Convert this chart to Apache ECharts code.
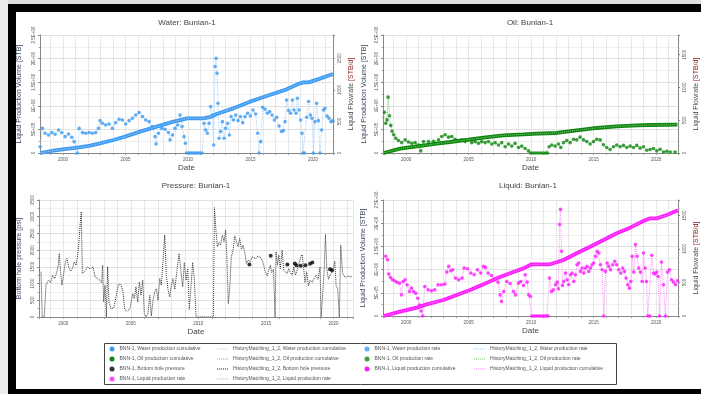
<!DOCTYPE html>
<html>
<head>
<meta charset="utf-8">
<script src="https://cdn.jsdelivr.net/npm/echarts@6/dist/echarts.min.js"></script>
<style>
  html, body { margin: 0; padding: 0; background: #fff; }
  #main { width: 701px; height: 394px; }
</style>
</head>
<body>
<div id="main"></div>
<script>
// ---- data (decimal year, value) ----
const waterCum = [[1998.16,0],[1999.23,49000],[2000.29,85000],[2001.15,113000],[2002.16,155000],[2002.96,205000],[2004.03,275000],[2004.96,346000],[2006.16,452000],[2007.49,558000],[2008.83,664000],[2009.63,713000],[2009.89,734000],[2011.23,734000],[2011.89,770000],[2012.29,826000],[2013.63,946000],[2014.96,1088000],[2016.29,1208000],[2017.89,1349000],[2018.96,1476000],[2019.23,1497000],[2019.63,1497000],[2020.56,1575000],[2021.6,1674000]];

const waterRate = [[1998.16,100],[1998.35,391],[1998.56,312],[1998.83,286],[1999.09,323],[1999.36,296],[1999.63,365],[1999.89,323],[2000.16,259],[2000.43,302],[2000.69,249],[2000.88,180],[2001.04,90],[2001.15,0],[2001.28,391],[2001.55,323],[2001.81,312],[2002.08,323],[2002.35,312],[2002.61,323],[2002.83,391],[2002.96,513],[2003.15,471],[2003.41,444],[2003.68,460],[2003.95,391],[2004.21,481],[2004.48,534],[2004.75,524],[2005.01,460],[2005.28,513],[2005.55,550],[2005.81,603],[2006.08,640],[2006.35,577],[2006.61,524],[2006.88,497],[2007.15,418],[2007.36,259],[2007.44,143],[2007.63,312],[2007.89,391],[2008.16,376],[2008.43,323],[2008.56,206],[2008.75,286],[2008.96,391],[2009.17,444],[2009.36,603],[2009.52,418],[2009.68,259],[2009.79,153],[2009.87,0],[2010.05,0],[2010.2,0],[2010.35,0],[2010.5,0],[2010.65,0],[2010.8,0],[2010.95,0],[2011.12,0],[2011.28,471],[2011.41,365],[2011.55,312],[2011.68,471],[2011.81,735],[2011.95,603],[2012.05,127],[2012.16,1370],[2012.24,1502],[2012.32,1264],[2012.40,788],[2012.48,233],[2012.61,339],[2012.75,497],[2012.88,233],[2013.01,391],[2013.17,471],[2013.31,286],[2013.44,577],[2013.63,524],[2013.81,603],[2014.00,513],[2014.19,577],[2014.37,481],[2014.56,577],[2014.77,630],[2014.99,587],[2015.20,682],[2015.41,619],[2015.57,312],[2015.68,0],[2015.81,180],[2015.97,725],[2016.16,693],[2016.35,630],[2016.53,656],[2016.72,603],[2016.91,524],[2017.09,566],[2017.28,428],[2017.47,339],[2017.63,354],[2017.76,497],[2017.89,841],[2018.05,672],[2018.21,630],[2018.35,841],[2018.48,682],[2018.64,630],[2018.75,868],[2018.88,682],[2019.01,524],[2019.12,312],[2019.20,0],[2019.33,0],[2019.49,566],[2019.65,815],[2019.79,603],[2019.92,550],[2020.03,0],[2020.16,497],[2020.29,788],[2020.43,513],[2020.56,0],[2020.69,365],[2020.83,682],[2020.96,709],[2021.12,587],[2021.28,550],[2021.44,497],[2021.57,513]];

const oilCum = [[1998.2,0],[1999.52,92000],[2000.85,141000],[2002.45,198000],[2003.52,233000],[2004.99,282000],[2006.19,325000],[2007.79,374000],[2009.39,395000],[2010.45,410000],[2012.05,424000],[2013.65,480000],[2015.25,530000],[2016.85,565000],[2018.45,586000],[2019.52,593000],[2021.7,600000]];

const oilRate = [[1998.27,621],[1998.37,452],[1998.48,505],[1998.56,852],[1998.67,568],[1998.77,421],[1998.88,331],[1999.01,279],[1999.17,226],[1999.39,189],[1999.65,158],[1999.92,200],[2000.19,168],[2000.45,147],[2000.72,158],[2000.99,121],[2001.17,32],[2001.39,174],[2001.79,174],[2002.19,179],[2002.59,200],[2002.85,252],[2003.12,279],[2003.39,242],[2003.65,252],[2003.92,210],[2004.19,189],[2004.45,200],[2004.72,174],[2004.99,200],[2005.25,158],[2005.52,174],[2005.79,147],[2006.05,174],[2006.32,158],[2006.59,174],[2006.85,137],[2007.12,158],[2007.39,121],[2007.65,158],[2007.92,95],[2008.19,137],[2008.45,105],[2008.72,147],[2008.99,84],[2009.25,105],[2009.52,68],[2009.79,32],[2009.97,0],[2010.15,0],[2010.35,0],[2010.55,0],[2010.75,0],[2010.95,0],[2011.15,0],[2011.31,0],[2011.44,95],[2011.65,121],[2011.92,105],[2012.19,137],[2012.37,84],[2012.59,158],[2012.85,189],[2013.12,158],[2013.39,210],[2013.65,200],[2013.92,242],[2014.19,200],[2014.45,174],[2014.72,137],[2014.99,174],[2015.25,210],[2015.52,200],[2015.79,126],[2016.05,84],[2016.32,53],[2016.59,95],[2016.85,121],[2017.12,95],[2017.39,116],[2017.65,84],[2017.92,105],[2018.19,84],[2018.45,116],[2018.72,74],[2018.99,95],[2019.25,42],[2019.52,53],[2019.79,68],[2020.05,32],[2020.32,58],[2020.59,16],[2020.85,26],[2021.12,16],[2021.52,16]];

const liquidCum = [[1998.2,0],[1999.52,93000],[2000.85,180000],[2001.65,251000],[2002.99,345000],[2004.05,453000],[2005.12,560000],[2006.19,682000],[2007.25,812000],[2008.32,920000],[2009.39,1027000],[2010.05,1114000],[2011.52,1114000],[2012.59,1207000],[2013.65,1351000],[2014.72,1494000],[2015.79,1638000],[2016.85,1782000],[2017.92,1904000],[2018.99,2047000],[2019.52,2105000],[2020.05,2105000],[2020.85,2177000],[2021.75,2280000]];

const liquidRate = [[1998.37,890],[1998.51,840],[1998.61,625],[1998.75,575],[1998.91,540],[1999.07,525],[1999.25,505],[1999.47,490],[1999.63,315],[1999.76,515],[1999.92,540],[2000.08,465],[2000.27,365],[2000.43,415],[2000.59,365],[2000.77,340],[2000.93,265],[2001.07,165],[2001.20,75],[2001.33,0],[2001.49,440],[2001.76,390],[2002.03,375],[2002.29,390],[2002.56,465],[2002.83,465],[2003.09,475],[2003.25,655],[2003.41,740],[2003.57,675],[2003.73,690],[2003.95,565],[2004.21,540],[2004.48,565],[2004.64,715],[2004.91,705],[2005.17,640],[2005.44,615],[2005.71,690],[2005.97,640],[2006.19,740],[2006.35,725],[2006.56,640],[2006.83,605],[2007.09,540],[2007.36,505],[2007.52,315],[2007.63,215],[2007.81,365],[2008.05,515],[2008.32,485],[2008.59,365],[2008.75,315],[2008.99,490],[2009.17,515],[2009.39,455],[2009.52,615],[2009.68,505],[2009.81,315],[2009.95,290],[2010.05,0],[2010.2,0],[2010.35,0],[2010.5,0],[2010.65,0],[2010.8,0],[2010.95,0],[2011.1,0],[2011.25,0],[2011.36,0],[2011.47,565],[2011.63,365],[2011.79,390],[2011.95,465],[2012.08,505],[2012.19,405],[2012.27,1365],[2012.35,1590],[2012.43,965],[2012.51,455],[2012.61,515],[2012.75,640],[2012.88,540],[2013.01,465],[2013.15,615],[2013.28,640],[2013.41,515],[2013.55,615],[2013.68,765],[2013.81,790],[2013.95,665],[2014.08,715],[2014.21,640],[2014.35,715],[2014.48,740],[2014.61,665],[2014.75,715],[2014.88,765],[2015.01,790],[2015.15,890],[2015.28,965],[2015.41,940],[2015.55,765],[2015.68,690],[2015.81,0],[2015.95,665],[2016.08,790],[2016.21,740],[2016.35,690],[2016.53,765],[2016.69,815],[2016.85,765],[2017.01,690],[2017.17,640],[2017.33,715],[2017.47,665],[2017.60,565],[2017.73,465],[2017.87,415],[2017.97,515],[2018.08,890],[2018.21,655],[2018.35,1065],[2018.48,890],[2018.61,715],[2018.75,655],[2018.88,515],[2018.99,940],[2019.12,715],[2019.23,515],[2019.33,0],[2019.49,0],[2019.65,905],[2019.79,640],[2019.92,625],[2020.05,655],[2020.16,590],[2020.27,0],[2020.43,805],[2020.59,465],[2020.75,0],[2020.91,655],[2021.07,690],[2021.23,540],[2021.39,505],[2021.55,465],[2021.71,525]];

const bhpObs = [[2013.78,1570],[2015.36,1830],[2016.59,1570],[2017.14,1600],[2017.26,1550],[2017.58,1530],[2017.93,1550],[2018.27,1590],[2018.44,1630],[2019.75,1430],[2019.90,1400]];

const bhpSim = [[1998.22,1400],[1998.35,1330],[1998.44,0],[1998.59,0],[1998.72,950],[1998.89,1100],[1999.06,1030],[1999.21,1250],[1999.36,1150],[1999.51,1330],[1999.63,1550],[1999.70,1900],[1999.80,1330],[1999.90,950],[2000.02,1270],[2000.15,1650],[2000.27,1750],[2000.40,1500],[2000.54,1370],[2000.69,1470],[2000.81,1650],[2000.94,1550],[2001.06,1830],[2001.16,2250],[2001.26,2850],[2001.33,3150],[2001.41,1300],[2001.60,1370],[2001.80,1500],[2002.00,1430],[2002.20,1500],[2002.35,1200],[2002.52,1150],[2002.72,1100],[2002.84,1030],[2002.91,1550],[2002.99,450],[2003.09,950],[2003.19,0],[2003.28,1500],[2003.38,450],[2003.53,250],[2003.73,270],[2003.93,650],[2004.07,970],[2004.27,970],[2004.42,750],[2004.54,230],[2004.72,170],[2004.94,250],[2005.14,700],[2005.26,550],[2005.38,900],[2005.51,450],[2005.63,1050],[2005.75,650],[2005.88,1100],[2006.00,100],[2006.12,0],[2006.27,100],[2006.40,650],[2006.52,30],[2006.64,500],[2006.77,750],[2006.89,850],[2007.01,500],[2007.14,1150],[2007.26,950],[2007.38,1650],[2007.51,2450],[2007.63,1250],[2007.75,830],[2007.88,600],[2008.00,950],[2008.12,1150],[2008.25,830],[2008.40,1330],[2008.57,1900],[2008.69,1450],[2008.84,900],[2008.96,1630],[2009.09,1100],[2009.21,1450],[2009.33,230],[2009.46,950],[2009.58,1630],[2009.70,1130],[2009.83,0],[2010.49,0],[2011.11,0],[2011.19,3270],[2011.31,2550],[2011.41,2100],[2011.53,2230],[2011.65,2150],[2011.78,2450],[2011.90,2250],[2012.02,2600],[2012.12,1630],[2012.22,400],[2012.32,850],[2012.44,1800],[2012.57,2000],[2012.69,2430],[2012.81,2270],[2012.94,2100],[2013.06,2350],[2013.19,2030],[2013.31,2150],[2013.43,1950],[2013.56,1600],[2013.68,1700],[2013.83,1650],[2013.98,1800],[2014.12,1850],[2014.27,1750],[2014.42,1830],[2014.57,1790],[2014.72,1700],[2014.84,1550],[2014.96,1330],[2015.09,1230],[2015.21,1400],[2015.33,1550],[2015.43,1330],[2015.56,1430],[2015.68,0],[2015.75,1950],[2015.85,1550],[2015.95,1850],[2016.07,1450],[2016.20,2000],[2016.32,1400],[2016.44,1450],[2016.57,1300],[2016.69,1450],[2016.81,1330],[2016.94,1250],[2017.06,1500],[2017.19,1250],[2017.31,1400],[2017.43,1550],[2017.56,1770],[2017.68,1870],[2017.80,1450],[2017.90,1030],[2018.02,1350],[2018.15,930],[2018.27,1100],[2018.42,1030],[2018.57,1150],[2018.72,1250],[2018.86,1130],[2019.01,1500],[2019.09,0],[2019.21,0],[2019.31,1330],[2019.41,2470],[2019.51,1450],[2019.63,1130],[2019.75,1250],[2019.88,1330],[2020.00,1450],[2020.10,1670],[2020.20,950],[2020.32,830],[2020.44,0],[2020.54,2150],[2020.67,1330],[2020.79,1230],[2020.91,1170],[2021.06,1230],[2021.23,1200],[2021.40,1210]];

const titles = ['Water: Bunian-1', 'Oil: Bunian-1', 'Pressure: Bunian-1', 'Liquid: Bunian-1'];
const legendCols = [
  ['BNN-1, Water production cumulative', 'BNN-1, Oil production cumulative', 'BNN-1, Bottom hole pressure', 'BNN-1, Liquid production rate'],
  ['HistoryMatching_1_2, Water production cumulative', 'HistoryMatching_1_2, Oil production cumulative', 'HistoryMatching_1_2, Bottom hole pressure', 'HistoryMatching_1_2, Liquid production rate'],
  ['BNN-1, Water production rate', 'BNN-1, Oil production rate', 'BNN-1, Liquid production cumulative'],
  ['HistoryMatching_1_2, Water production rate', 'HistoryMatching_1_2, Oil production rate', 'HistoryMatching_1_2, Liquid production cumulative']
];

const FONT = '"Liberation Sans", Arial, sans-serif';
const grids = [
  { left: 40, top: 35, width: 293, height: 118 },
  { left: 383, top: 35, width: 295, height: 118 },
  { left: 39, top: 200, width: 314, height: 117 },
  { left: 383, top: 200, width: 295, height: 116 }
];

function sci(v) {
  if (v === 0) return '0';
  const e = Math.floor(Math.log10(v) + 1e-9);
  const m = +(v / Math.pow(10, e)).toFixed(2);
  return m + 'E+' + String(e).padStart(2, '0');
}

function xAxis(gi, min, max) {
  return {
    type: 'value', gridIndex: gi, min: min, max: max, splitNumber: 20,
    name: 'Date', nameLocation: 'middle', nameGap: 11,
    nameTextStyle: { fontSize: 8, color: '#444' },
    axisLine: { lineStyle: { color: '#888' } },
    axisTick: { length: 2, lineStyle: { color: '#999' } },
    axisLabel: {
      fontSize: 4.5, color: '#555', margin: 4,
      formatter: function (v) {
        const r = Math.round(v);
        return (Math.abs(v - r) < 1e-6 && r % 5 === 0) ? String(r) : '';
      }
    },
    splitLine: { show: true, lineStyle: { color: '#e2e2e2', width: 0.8 } }
  };
}

function leftAxis(gi, name, max, interval, fmt, gap) {
  return {
    type: 'value', gridIndex: gi, position: 'left', min: 0, max: max, interval: interval,
    name: name, nameLocation: 'middle', nameGap: gap, nameRotate: 90,
    nameTextStyle: { fontSize: 7, color: '#3c4660' },
    axisLine: { show: true, lineStyle: { color: '#888' } },
    axisTick: { show: true, length: 2, lineStyle: { color: '#888' } },
    minorTick: { show: true, splitNumber: 2, length: 1.5, lineStyle: { color: '#aaa' } },
    axisLabel: { rotate: 90, fontSize: 4.5, color: '#555', margin: 4, formatter: fmt },
    splitLine: { show: true, lineStyle: { color: '#d9d9d9', width: 0.8 } },
    minorSplitLine: { show: true, lineStyle: { color: '#ececec', width: 0.8 } }
  };
}

function rightAxis(gi, max) {
  return {
    type: 'value', gridIndex: gi, position: 'right', min: 0, max: max, interval: 500,
    name: '{a|Liquid Flowrate }{b|[STB/d]}', nameLocation: 'middle', nameGap: 15, nameRotate: 90,
    nameTextStyle: { fontSize: 7, rich: { a: { fontSize: 7, color: '#4a4a4a' }, b: { fontSize: 7, color: '#8a1d1d' } } },
    axisLine: { show: true, lineStyle: { color: '#888' } },
    axisTick: { show: true, length: 2, lineStyle: { color: '#888' } },
    minorTick: { show: true, splitNumber: 5, length: 1.5, lineStyle: { color: '#aaa' } },
    axisLabel: {
      rotate: 90, fontSize: 4.5, color: '#555', margin: 4,
      formatter: function (v) { return v % 500 === 0 ? String(v) : ''; }
    },
    splitLine: { show: false }
  };
}

const xAxes = [xAxis(0, 1998.15, 2021.6), xAxis(1, 1998.15, 2021.75), xAxis(2, 1998.2, 2021.45), xAxis(3, 1998.15, 2021.75)];
const yAxes = [
  leftAxis(0, 'Liquid Production Volume [STB]', 2500000, 500000, sci, 17), rightAxis(0, 1870),
  leftAxis(1, 'Liquid Production Volume [STB]', 2500000, 500000, sci, 15), rightAxis(1, 1800),
  leftAxis(2, 'Bottom hole pressure [psi]', 3500, 500, function (v) { return String(v); }, 16),
  leftAxis(3, 'Liquid Production Volume [STB]', 2500000, 500000, sci, 16), rightAxis(3, 1730)
];

function cumSeries(name, data, xi, yi, color) {
  return { name: name, type: 'line', xAxisIndex: xi, yAxisIndex: yi, data: data, symbol: 'none',
    itemStyle: { color: color }, lineStyle: { color: color, width: 3.8 }, z: 4 };
}
function hmSeries(name, data, xi, yi, color, z) {
  return { name: name, type: 'line', xAxisIndex: xi, yAxisIndex: yi, data: data, symbol: 'none',
    itemStyle: { color: color }, lineStyle: { color: color, width: 1, type: 'dotted' }, z: z };
}
function dotSeries(name, data, xi, yi, color) {
  return { name: name, type: 'scatter', xAxisIndex: xi, yAxisIndex: yi, data: data,
    symbol: 'circle', symbolSize: 3.6, itemStyle: { color: color }, z: 3 };
}

const BLUE = '#3b9bf2', BLUE_L = '#a9d1fa';
const GREEN = '#0d870d', GREEN_L = '#7fc77f';
const PINK = '#ff1aff', PINK_L = '#ff8cff';

const series = [
  hmSeries('HistoryMatching_1_2, Water production rate', waterRate, 0, 1, BLUE_L, 2),
  dotSeries('BNN-1, Water production rate', waterRate, 0, 1, BLUE),
  cumSeries('BNN-1, Water production cumulative', waterCum, 0, 0, BLUE),
  hmSeries('HistoryMatching_1_2, Water production cumulative', waterCum, 0, 0, BLUE_L, 5),

  hmSeries('HistoryMatching_1_2, Oil production rate', oilRate, 1, 3, GREEN_L, 2),
  dotSeries('BNN-1, Oil production rate', oilRate, 1, 3, GREEN),
  cumSeries('BNN-1, Oil production cumulative', oilCum, 1, 2, GREEN),
  hmSeries('HistoryMatching_1_2, Oil production cumulative', oilCum, 1, 2, GREEN_L, 5),

  hmSeries('HistoryMatching_1_2, Bottom hole pressure', bhpSim, 2, 4, '#333333', 2),
  Object.assign(dotSeries('BNN-1, Bottom hole pressure', bhpObs, 2, 4, '#000000'), { symbolSize: 4 }),

  hmSeries('HistoryMatching_1_2, Liquid production rate', liquidRate, 3, 6, PINK_L, 2),
  dotSeries('BNN-1, Liquid production rate', liquidRate, 3, 6, PINK),
  cumSeries('BNN-1, Liquid production cumulative', liquidCum, 3, 5, PINK),
  hmSeries('HistoryMatching_1_2, Liquid production cumulative', liquidCum, 3, 5, PINK_L, 5)
];

// dotted legend glyph for the simulated (HistoryMatching) curves
const DOTTED_ICON = 'path://M0,0h2v1.4h-2zM3.5,0h2v1.4h-2zM7,0h2v1.4h-2zM10.5,0h2v1.4h-2zM14,0h2v1.4h-2zM17.5,0h2v1.4h-2z';

const colX = [109.5, 217, 364.5, 474];
const legends = legendCols.map(function (names, i) {
  const isLine = i % 2 === 1;
  return {
    orient: 'vertical', left: colX[i], top: 346, padding: 0,
    itemGap: 4, itemWidth: isLine ? 11 : 5, itemHeight: 5,
    selectedMode: false,
    textStyle: { fontSize: 5, lineHeight: 6, color: '#555', fontFamily: FONT },
    data: names.map(function (n) { return { name: n, icon: isLine ? DOTTED_ICON : 'circle' }; })
  };
});

const titleTops = [19, 19, 182, 182];
const titleX = [187, 530, 196, 528];

const option = {
  animation: false,
  backgroundColor: '#ffffff',
  textStyle: { fontFamily: FONT },
  title: titles.map(function (t, i) {
    return { text: t, left: titleX[i], top: titleTops[i], textAlign: 'center', padding: 0,
      textStyle: { fontSize: 8, fontWeight: 'normal', color: '#444', fontFamily: FONT } };
  }),
  grid: grids.map(function (g) { return Object.assign({ show: false }, g); }),
  xAxis: xAxes,
  yAxis: yAxes,
  legend: legends,
  series: series,
  graphic: [
    { type: 'rect', shape: { x: 0, y: 0, width: 701, height: 4 }, style: { fill: '#dedede' }, silent: true },
    { type: 'rect', shape: { x: 0, y: 0, width: 8, height: 394 }, style: { fill: '#ececec' }, silent: true },
    { type: 'rect', shape: { x: 8, y: 4, width: 693, height: 8 }, style: { fill: '#000' }, silent: true },
    { type: 'rect', shape: { x: 8, y: 4, width: 8, height: 390 }, style: { fill: '#000' }, silent: true },
    { type: 'rect', shape: { x: 8, y: 389, width: 693, height: 5 }, style: { fill: '#000' }, silent: true },
    { type: 'rect', shape: { x: 104.5, y: 343.5, width: 512, height: 41 }, style: { fill: 'none', stroke: '#444', lineWidth: 1 }, silent: true }
  ]
};

const chart = echarts.init(document.getElementById('main'));
chart.setOption(option);
</script>
</body>
</html>
